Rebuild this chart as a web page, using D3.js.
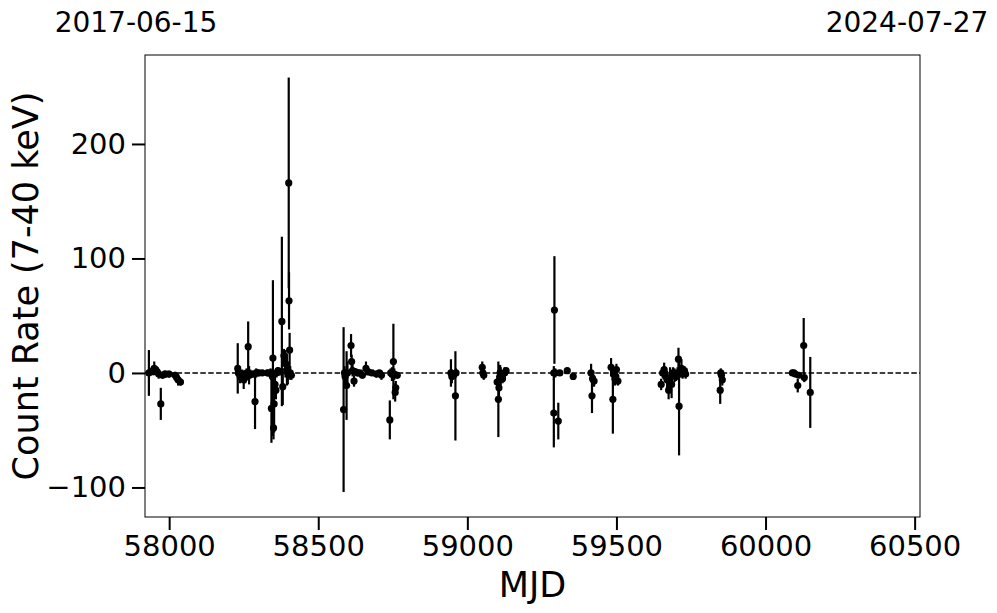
<!DOCTYPE html>
<html><head><meta charset="utf-8">
<script src="https://cdn.jsdelivr.net/npm/d3@7"></script>
<style>body{margin:0;background:#fff;} text{font-family:"DejaVu Sans",sans-serif;}</style>
</head><body>
<svg id="chart" width="997" height="613"></svg>
<script>
const mjd = [57932,57945,57950,57955,57960,57965,57972,57978,57985,57990,58000,58020,58025,58030,58038,
58230,58232,58238,58245,58250,58255,58260,58265,58268,58272,58280,58288,58292,58300,58312,58330,58340,58345,58348,58343,58350,58352,58355,58358,58346,58360,58365,58370,58378,58381,58385,58390,58395,58398,58401,58402,58404,58406,58410,
58585,58588,58590,58595,58598,58610,58612,58615,58620,58625,58632,58640,58648,58660,58668,58680,58695,58705,58712,58740,58743,58747,58752,58755,58758,58760,58765,
58945,58948,58960,58962,59050,59052,59055,59100,59104,59106,59110,59112,59118,59125,59130,
59292,59290,59295,59290,59305,59310,59335,59355,59415,59418,59420,59425,59482,59488,59490,59495,59500,59505,59498,
59650,59655,59660,59665,59670,59675,59680,59685,59690,59695,59700,59705,59708,59710,59712,59718,59722,59728,59732,
59848,59850,59852,59855,
60090,60095,60100,60108,60112,60128,60130,60150];
const rate = [0,2,4,3,1,-1,-27,-2,-1,-1,-1,-2,-4,-6,-8,
4,0,-3,-1,-6,-4,0,23,-2,-1,-1,-25,0,0,0,0,0,-2,13,-31,-48,-27,-10,-15,-3,0,2,1,45,-12,15,8,3,0,166,63,20,0,-2,
-32,0,-3,-11,0,24,10,2,-7,1,0,0,-2,4,1,0,-1,0,-2,-41,0,-1,10,-1,-17,-13,-2,
0,-3,-20,0,5,0,-2,-8,-23,-13,0,-3,-5,0,2,
55,0,0,-35,-42,0,2,-3,0,-20,-5,-7,5,-23,-1,-5,3,-7,-3,
-10,0,3,-3,-6,-15,-5,-10,0,-2,-3,0,12,-29,0,4,0,2,-1,
-15,0,-2,-6,
0,0,-1,-11,-2,24,-4,-17];
const err = [20,4,6,3,3,4,14,3,3,2,3,3,4,5,3,
22,5,6,4,8,5,4,22,8,4,3,24,4,3,2,3,4,4,68,30,10,25,10,8,6,4,3,3,74,16,6,12,14,10,92,25,15,6,4,
72,6,6,30,10,10,6,5,5,3,3,2,3,6,3,2,3,2,4,17,4,6,33,5,8,6,3,
12,6,39,4,5,3,4,6,33,10,7,8,4,5,2,
47,6,4,30,16,2,2,3,8,15,5,5,8,30,4,6,5,4,6,
5,4,6,4,8,8,10,12,5,6,4,5,10,43,4,8,5,4,4,
12,4,3,5,
1,1,2,6,2,24,4,31];
const xTicks = [58000,58500,59000,59500,60000,60500];
const yTicks = [-100,0,100,200];
const dateLabels = ["2017-06-15","2024-07-27"];
const xLabel = "MJD", yLabel = "Count Rate (7-40 keV)";

const svg = d3.select("#chart");
const L=145,R=920,T=55,B=517;
const x = d3.scaleLinear().domain([57919,60518]).range([L,R]);
const y = d3.scaleLinear().domain([-125.8,277.7]).range([B,T]);

// zero line
svg.append("line").attr("x1",L).attr("x2",R).attr("y1",y(0)).attr("y2",y(0))
  .attr("stroke","#000").attr("stroke-width",1.6).attr("stroke-dasharray","5.5,2.4");

const pts = mjd.map((m,i)=>({m, r:rate[i], e:err[i]}));
const g = svg.append("g");
g.selectAll("line.eb").data(pts).enter().append("line").attr("class","eb")
  .attr("x1",d=>x(d.m)).attr("x2",d=>x(d.m))
  .attr("y1",d=>y(d.r-d.e)).attr("y2",d=>y(d.r+d.e))
  .attr("stroke","#000").attr("stroke-width",2.2);
g.selectAll("circle").data(pts).enter().append("circle")
  .attr("cx",d=>x(d.m)).attr("cy",d=>y(d.r)).attr("r",3.6).attr("fill","#000");

// axes
const xa = svg.append("g").attr("transform",`translate(0,${B})`)
  .call(d3.axisBottom(x).tickValues(xTicks).tickSize(13).tickPadding(5).tickFormat(d3.format("d")));
const ya = svg.append("g").attr("transform",`translate(${L},0)`)
  .call(d3.axisLeft(y).tickValues(yTicks).tickSize(13).tickPadding(6).tickFormat(d=>d<0?"\u2212"+Math.abs(d):d));
[xa,ya].forEach(a=>{
  a.select(".domain").remove();
  a.selectAll(".tick line").attr("stroke","#000").attr("stroke-width",2);
  a.selectAll(".tick text").attr("fill","#000").style("font-size","29px").style("font-family","DejaVu Sans");
});
svg.append("rect").attr("x",L).attr("y",T).attr("width",R-L).attr("height",B-T)
  .attr("fill","none").attr("stroke","#000").attr("stroke-width",1);

svg.append("text").attr("x",(L+R)/2).attr("y",597).attr("text-anchor","middle")
  .style("font-size","35px").text(xLabel);
svg.append("text").attr("transform",`translate(38,${(T+B)/2}) rotate(-90)`).attr("text-anchor","middle")
  .style("font-size","35px").text(yLabel);
svg.append("text").attr("x",136).attr("y",32).attr("text-anchor","middle").style("font-size","28px").text(dateLabels[0]);
svg.append("text").attr("x",907).attr("y",32).attr("text-anchor","middle").style("font-size","28px").text(dateLabels[1]);
</script>
</body></html>
